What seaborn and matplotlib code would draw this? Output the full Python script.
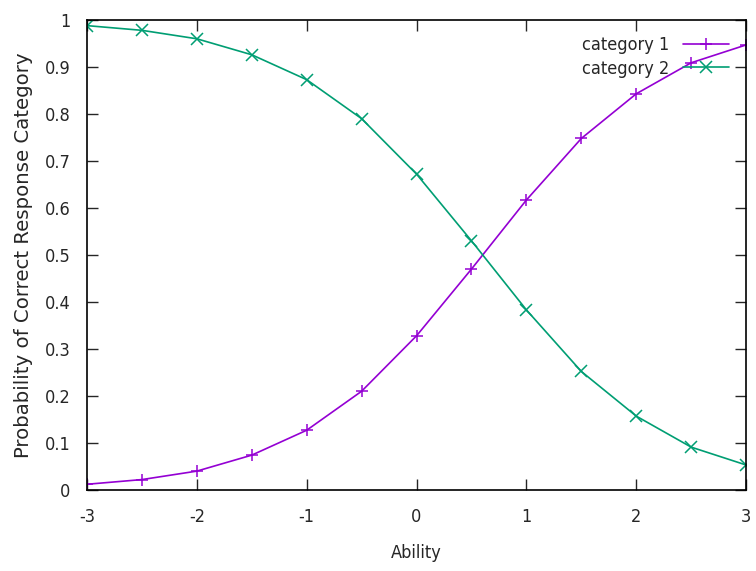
import matplotlib
matplotlib.use("Agg")
import matplotlib.pyplot as plt
from matplotlib.font_manager import FontProperties
import seaborn as sns
import pandas as pd

ability = [-3, -2.5, -2, -1.5, -1, -0.5, 0, 0.5, 1, 1.5, 2, 2.5, 3]
category_1 = [0.012, 0.022, 0.040, 0.074, 0.127, 0.210, 0.328, 0.470, 0.617, 0.748, 0.843, 0.909, 0.947]
category_2 = [0.988, 0.978, 0.960, 0.926, 0.873, 0.790, 0.672, 0.530, 0.383, 0.252, 0.157, 0.091, 0.053]
series_names = ["category 1", "category 2"]
x_ticks = [-3, -2, -1, 0, 1, 2, 3]
y_ticks = [0, 0.1, 0.2, 0.3, 0.4, 0.5, 0.6, 0.7, 0.8, 0.9, 1]

sns.set_style("ticks")
plt.rcParams['font.family'] = ['DejaVu Sans']
plt.rcParams['font.stretch'] = 'condensed'

df = pd.DataFrame({
    "Ability": ability * 2,
    "p": category_1 + category_2,
    "series": [series_names[0]] * len(ability) + [series_names[1]] * len(ability),
})

fig = plt.figure(figsize=(7.56, 5.71), dpi=100)
ax = fig.add_axes([0.115, 0.142, 0.872, 0.823])
colors = ["#9400D3", "#009E73"]
palette = dict(zip(series_names, colors))
sns.lineplot(data=df, x="Ability", y="p", hue="series", style="series",
             palette=palette, markers={series_names[0]: "+", series_names[1]: "x"},
             dashes=False, markersize=8.5, markeredgewidth=1.1, linewidth=1.2, ax=ax)
for ln in ax.get_lines():
    ln.set_markeredgecolor(ln.get_color())

ax.set_xlim(-3, 3)
ax.set_ylim(0, 1)
ax.set_xticks(x_ticks)
ax.set_xticklabels([str(t) for t in x_ticks])
ax.set_yticks(y_ticks)
ax.set_yticklabels(["0", "0.1", "0.2", "0.3", "0.4", "0.5", "0.6", "0.7", "0.8", "0.9", "1"])
ax.tick_params(direction="in", length=8, width=1, top=True, right=True, labelsize=13, pad=13)
ax.tick_params(axis="y", pad=12)
for s in ax.spines.values():
    s.set_linewidth(1.2)
    s.set_color("black")
ax.set_xlabel("Ability", fontsize=13, labelpad=13)
ylab_fp = FontProperties(family="DejaVu Sans", stretch="normal", size=14.2)
ax.set_ylabel("Probability of Correct Response Category", fontproperties=ylab_fp, labelpad=8)

leg = ax.legend(loc="upper right", frameon=False, markerfirst=False, fontsize=13,
                handlelength=2.5, borderaxespad=0.5, labelspacing=0.3, handletextpad=0.8,
                bbox_to_anchor=(0.998, 1.0))
for h in leg.legend_handles:
    h.set_markeredgecolor(h.get_color())
fig.savefig("out.png", dpi=100)
